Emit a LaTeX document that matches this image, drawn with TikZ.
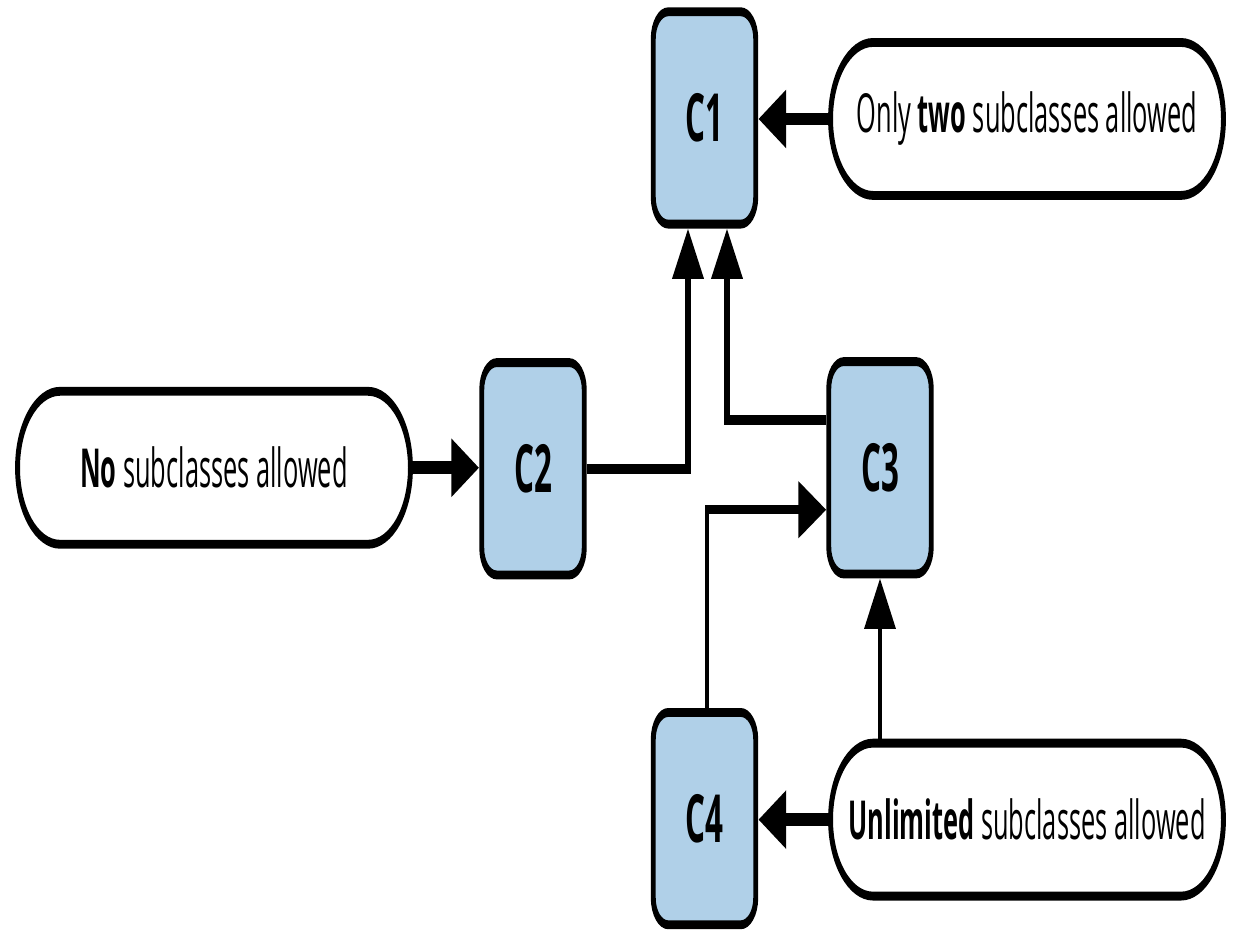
\documentclass[tikz,border=0pt]{standalone}
\usepackage{fontspec}
\setmainfont{Open Sans}[FakeStretch=0.85]
\usetikzlibrary{arrows.meta,shapes.misc}

\definecolor{boxblue}{RGB}{176,208,232}

\tikzset{
  classbox/.style={draw=black, line width=2.8pt, fill=boxblue, rounded corners=0.3cm,
    minimum width=2.05cm, minimum height=2.36cm, inner sep=0pt,
    font=\fontsize{21}{24}\selectfont\bfseries},
  pill/.style={draw=black, line width=2.8pt, fill=white, rounded rectangle,
    minimum width=7.86cm, minimum height=1.7cm, inner sep=0pt,
    font=\fontsize{17}{20}\selectfont},
  tip/.style={-{Triangle[length=0.56cm,width=0.61cm]}},
  link/.style={tip, line width=3.2pt},
  feed/.style={tip, line width=2.8pt},
  pillarrow/.style={tip, line width=4pt},
}

\begin{document}
\begin{tikzpicture}[x=0.02cm,y=-0.02cm]
\fill[white] (0,0) rectangle (1235,930);
\useasboundingbox (0,0) rectangle (1235,930);
% drawn flat, then stretched vertically
\begin{scope}[transform canvas={yscale=1.8}, y=-0.0111111cm]
  \node[classbox] (C1) at (704.5,118) {C1};
  \node[classbox] (C2) at (533,469) {C2};
  \node[classbox] (C3) at (880,468) {C3};
  \node[classbox] (C4) at (704.5,819) {C4};

  \node[pill] (two) at (1027,119) {Only \textbf{two} subclasses allowed};
  \node[pill] (none) at (214,468) {\textbf{No} subclasses allowed};
  \node[pill] (unl) at (1027,820) {\textbf{Unlimited} subclasses allowed};

  \coordinate (xa) at (688,0);
  \coordinate (xb) at (727,0);
  \coordinate (xc) at (707,0);
  \coordinate (ya) at (0,420);
  \coordinate (yb) at (0,510);

  \draw[pillarrow] (two.west) -- (two.west -| C1.east);
  \draw[pillarrow] (none.east) -- (none.east -| C2.west);
  \draw[pillarrow] (unl.west) -- (unl.west -| C4.east);

  \draw[link] (C2.east) -| (C1.south -| xa);
  \draw[link] (C3.west |- ya) -| (C1.south -| xb);
  \draw[feed] (C4.north -| xc) |- (C3.west |- yb);
  \draw[feed] (unl.north -| C3.south) -- (C3.south);
\end{scope}
\end{tikzpicture}
\end{document}
